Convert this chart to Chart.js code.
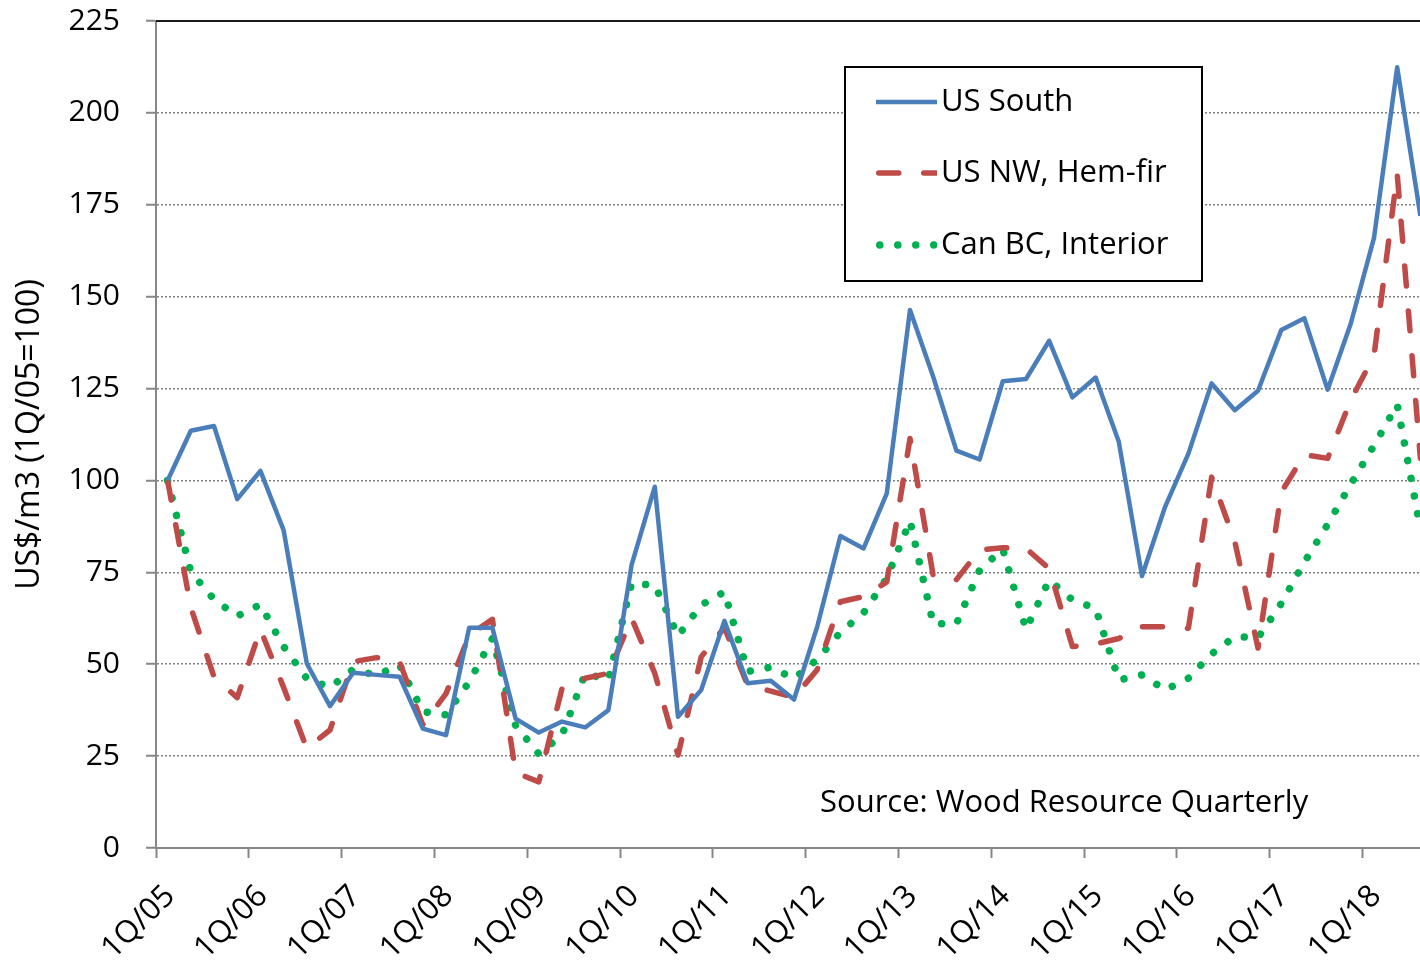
<!DOCTYPE html>
<html>
<head>
<meta charset="utf-8">
<script src="https://cdn.jsdelivr.net/npm/chart.js@4.4.1/dist/chart.umd.min.js"></script>
<style>
  html, body { margin: 0; padding: 0; background: #fff; overflow: hidden; }
  #wrap { position: absolute; left: 0; top: 0; width: 1432px; height: 963px; }
</style>
</head>
<body>
<div id="wrap"><canvas id="chart" width="1432" height="963"></canvas></div>
<script>
"use strict";

/* ==========================================================
   DATA (index, 1Q/05 = 100)
   ========================================================== */
const quarters = [
  "1Q/05", "2Q/05", "3Q/05", "4Q/05", "1Q/06", "2Q/06", "3Q/06", "4Q/06",
  "1Q/07", "2Q/07", "3Q/07", "4Q/07", "1Q/08", "2Q/08", "3Q/08", "4Q/08",
  "1Q/09", "2Q/09", "3Q/09", "4Q/09", "1Q/10", "2Q/10", "3Q/10", "4Q/10",
  "1Q/11", "2Q/11", "3Q/11", "4Q/11", "1Q/12", "2Q/12", "3Q/12", "4Q/12",
  "1Q/13", "2Q/13", "3Q/13", "4Q/13", "1Q/14", "2Q/14", "3Q/14", "4Q/14",
  "1Q/15", "2Q/15", "3Q/15", "4Q/15", "1Q/16", "2Q/16", "3Q/16", "4Q/16",
  "1Q/17", "2Q/17", "3Q/17", "4Q/17", "1Q/18", "2Q/18", "3Q/18"
];

const usSouth = [
  100, 113.5, 114.8, 94.9, 102.6, 86.5, 50.2, 38.6, 47.7, 47.1,
  46.6, 32.5, 30.7, 59.9, 59.9, 35.2, 31.4, 34.4, 32.8, 37.5,
  77.0, 98.3, 35.7, 43.0, 61.8, 44.8, 45.5, 40.4, 60.2, 84.9,
  81.5, 96.5, 146.4, 128.2, 108.1, 105.7, 127.0, 127.6, 138.0, 122.6,
  128.0, 110.5, 74.0, 92.9, 107.3, 126.4, 119.1, 124.4, 140.9, 144.1,
  124.7, 142.7, 166.0, 212.4, 172.0
];

const usNW = [
  100, 65.5, 46.5, 40.9, 59.5, 43.7, 27.1, 32.1, 50.7, 51.8,
  50.7, 33.5, 42.0, 57.9, 62.2, 20.5, 18.0, 43.4, 46.2, 47.5,
  62.5, 47.5, 25.3, 52.0, 60.0, 44.3, 42.7, 41.0, 48.5, 67.0,
  68.4, 72.4, 111.4, 74.0, 73.0, 81.1, 81.7, 81.5, 76.0, 54.8,
  55.5, 57.0, 60.2, 60.2, 59.8, 100.9, 83.4, 54.4, 96.8, 107.0,
  106.0, 121.9, 133.9, 183.4, 106.0
];

const canBC = [
  100, 75.2, 67.6, 63.1, 66.2, 54.8, 46.1, 43.7, 48.6, 47.0,
  49.8, 37.1, 36.2, 45.2, 57.0, 33.3, 25.6, 30.7, 47.5, 45.8,
  72.0, 71.5, 57.7, 66.1, 69.7, 48.0, 49.2, 46.1, 51.3, 58.7,
  64.0, 73.4, 89.0, 61.0, 61.0, 75.6, 81.3, 59.5, 72.9, 67.5,
  65.2, 45.7, 47.1, 43.0, 46.2, 52.8, 57.5, 57.2, 66.5, 77.8,
  88.0, 99.0, 109.5, 120.6, 86.9
];

const seriesNames = ["US South", "US NW, Hem-fir", "Can BC, Interior"];
const sourceText = "Source: Wood Resource Quarterly";
const yTitle = "US$/m3 (1Q/05=100)";

const FONT = "'Open Sans', 'DejaVu Sans', sans-serif";

// each quarter sits in the middle of its slot, ticks on the year boundaries
const toPoints = arr => arr.map((v, i) => ({ x: i + 0.5, y: v }));

/* ==========================================================
   PLUGINS: top frame line, legend box, source note
   ========================================================== */
const framePlugin = {
  id: "frame",
  afterDraw(chart) {
    const { ctx, chartArea: a } = chart;
    ctx.save();
    ctx.strokeStyle = "#1a1a1a";
    ctx.lineWidth = 2;
    ctx.beginPath();
    ctx.moveTo(a.left, a.top);
    ctx.lineTo(a.right, a.top);
    ctx.stroke();
    ctx.restore();
  }
};

const legendBoxPlugin = {
  id: "legendBox",
  afterDraw(chart) {
    const ctx = chart.ctx;
    const box = { x: 845, y: 67, w: 357, h: 214 };
    const rows = [102, 173, 245];
    ctx.save();
    ctx.fillStyle = "#fff";
    ctx.fillRect(box.x, box.y, box.w, box.h);
    ctx.strokeStyle = "#000";
    ctx.lineWidth = 2;
    ctx.strokeRect(box.x, box.y, box.w, box.h);

    chart.data.datasets.forEach((ds, i) => {
      const y = rows[i];
      ctx.save();
      ctx.beginPath();
      ctx.rect(876, y - 10, 61, 20);
      ctx.clip();
      ctx.strokeStyle = ds.borderColor;
      ctx.lineWidth = ds.borderWidth;
      ctx.lineCap = ds.borderCapStyle || "butt";
      ctx.setLineDash(ds.borderDash || []);
      ctx.beginPath();
      const x0 = ds.borderCapStyle === "round" ? 876 + ds.borderWidth / 2 : 876;
      ctx.moveTo(x0, y);
      ctx.lineTo(937, y);
      ctx.stroke();
      ctx.restore();

      ctx.fillStyle = "#000";
      ctx.font = `31px ${FONT}`;
      ctx.textAlign = "left";
      ctx.textBaseline = "middle";
      ctx.fillText(ds.label, 941, y);
    });
    ctx.restore();
  }
};

const sourcePlugin = {
  id: "sourceNote",
  afterDraw(chart) {
    const ctx = chart.ctx;
    ctx.save();
    ctx.fillStyle = "#000";
    ctx.font = `31px ${FONT}`;
    ctx.textAlign = "left";
    ctx.textBaseline = "middle";
    ctx.fillText(sourceText, 820, 803);
    ctx.restore();
  }
};

/* ==========================================================
   CHART
   ========================================================== */
const el = document.getElementById("chart");

new Chart(el, {
  type: "line",
  data: {
    datasets: [
      {
        label: seriesNames[0], data: toPoints(usSouth),
        borderColor: "#4A7EBB", borderWidth: 4.5, borderJoinStyle: "round",
        pointRadius: 0, tension: 0
      },
      {
        label: seriesNames[1], data: toPoints(usNW),
        borderColor: "#BE4B48", borderWidth: 5.5, borderDash: [20, 25], borderCapStyle: "round",
        borderJoinStyle: "round", pointRadius: 0, tension: 0
      },
      {
        label: seriesNames[2], data: toPoints(canBC),
        borderColor: "#00B050", borderWidth: 7.5, borderDash: [0.01, 18], borderCapStyle: "round",
        borderJoinStyle: "round", pointRadius: 0, tension: 0
      },
    ],
  },
  options: {
    responsive: false,
    animation: false,
    devicePixelRatio: 1,
    layout: { padding: { top: 21, right: 0, bottom: 0, left: 0 } },
    plugins: {
      legend: { display: false },
      tooltip: { enabled: false },
    },
    scales: {
      x: {
        type: "linear",
        min: 0,
        max: quarters.length,
        afterBuildTicks: s => { s.ticks = s.ticks.filter(t => t.value % 4 === 0 && t.value < quarters.length); },
        afterFit: s => { s.height = 115; },
        ticks: {
          stepSize: 4, autoSkip: false, minRotation: 45, maxRotation: 45, padding: 20, labelOffset: 14,
          color: "#000", font: { family: FONT, size: 31 },
          callback: v => quarters[v],
        },
        grid: { drawOnChartArea: false, drawTicks: true, tickLength: 10, tickColor: "#868686", tickWidth: 2 },
        border: { color: "#868686", width: 2 },
      },
      y: {
        min: 0,
        max: 225,
        afterFit: s => { s.width = 156; s.paddingTop = 0; s.paddingBottom = 0; },
        ticks: { stepSize: 25, padding: 26, color: "#000", font: { family: FONT, size: 30 } },
        grid: { color: "#7f7f7f", lineWidth: 1.5, tickLength: 10, tickColor: "#868686", tickWidth: 2 },
        border: { color: "#868686", width: 2, dash: [2, 2] },
        title: {
          display: true, text: yTitle, color: "#000",
          font: { family: FONT, size: 32 }, padding: { top: 11, bottom: 0 },
        },
      },
    },
  },
  plugins: [framePlugin, legendBoxPlugin, sourcePlugin],
});
</script>
</body>
</html>
